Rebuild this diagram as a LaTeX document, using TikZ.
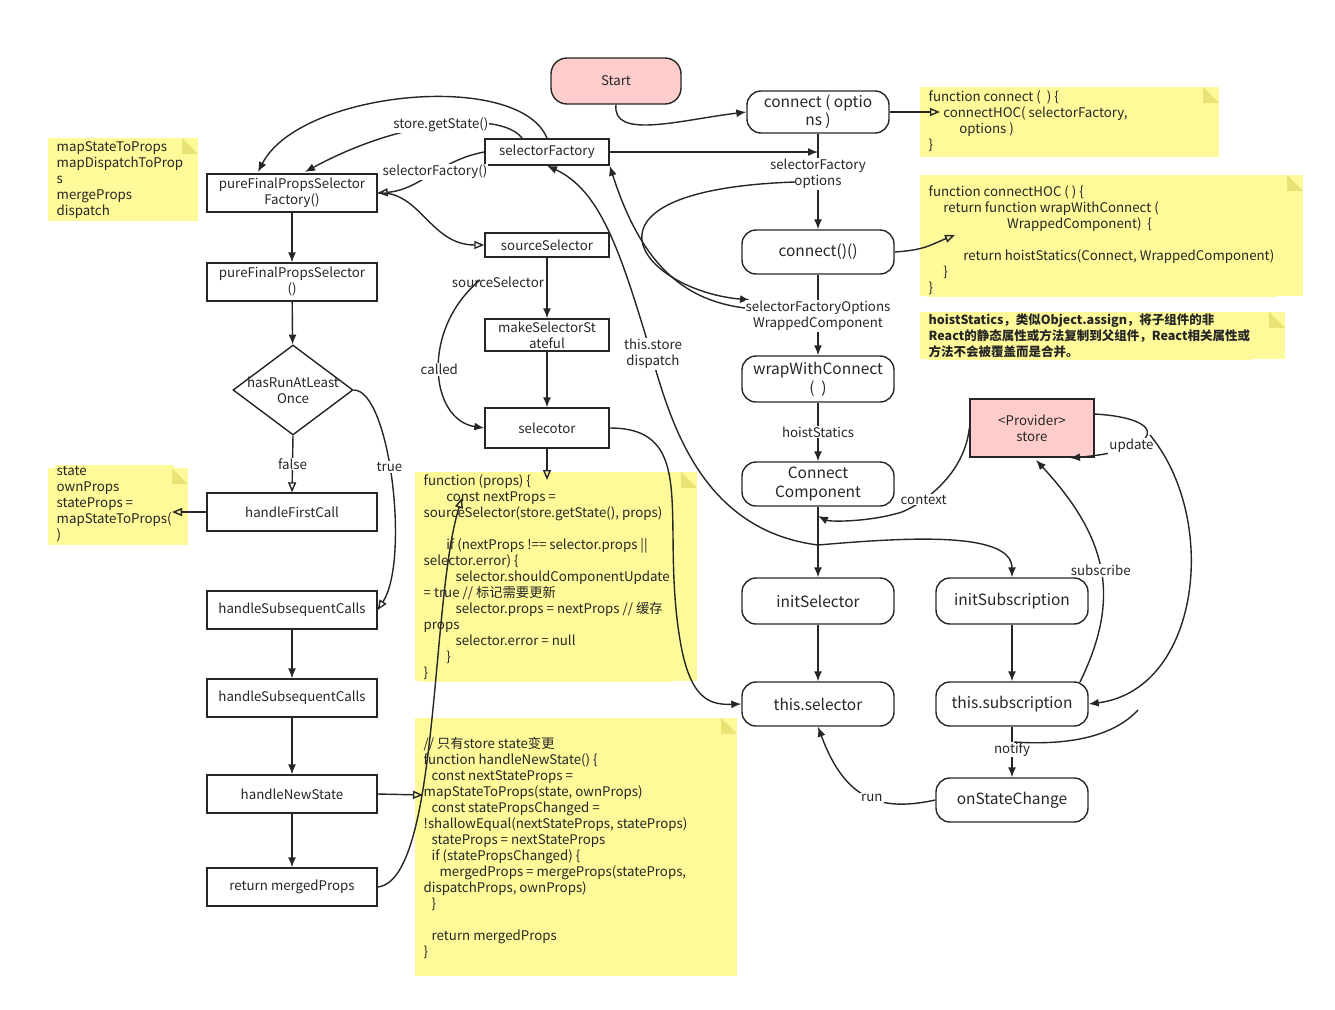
\documentclass[tikz,border=0pt]{standalone}
\usepackage{fontspec}
\setmainfont{Noto Sans CJK SC}
\usetikzlibrary{shapes.geometric,arrows.meta}
\tikzset{
  box/.style={draw,line width=1.4pt,minimum height=38pt,minimum width=170pt,inner sep=2pt,align=center,font=\fontsize{13.3}{16}\selectfont},
  sbox/.style={box,minimum width=124pt,minimum height=26pt},
  rbox/.style={box,rounded corners=14pt,minimum width=152pt,minimum height=44pt,font=\fontsize{15.5}{19}\selectfont},
  note/.style={fill=yellow!40,align=left,anchor=north west,inner sep=6pt,font=\fontsize{13.3}{16}\selectfont},
  lbl/.style={fill=white,inner sep=1pt,font=\fontsize{13.3}{16}\selectfont,align=center},
  arr/.style={line width=1.4pt,-{Latex[length=10pt,width=8pt]}},
  oarr/.style={line width=1.4pt,-{Triangle[open,length=10pt,width=8pt]}}
}
\newcommand{\notecorner}[2]{\fill[yellow!60!olive!50] (#1-16,#2) -- (#1,#2+16) -- (#1-16,#2+16) -- cycle;}
\begin{document}
\begin{tikzpicture}[x=1pt,y=-1pt,line width=1.4pt,color=black!85]
\useasboundingbox (0,0) rectangle (1335,1009);

% notes
\fill[yellow!40] (48,138) rectangle (198,221);
\node[note,inner sep=2pt] (nMap) at (54,139) {mapStateToProps\\mapDispatchToProp\\s\\mergeProps\\dispatch};
\fill[yellow!40] (48,468) rectangle (188,545);
\node[note,inner sep=2pt] (nState) at (54,464) {state\\ownProps\\stateProps =\\mapStateToProps(\\)};
\fill[yellow!40] (415,472) rectangle (697,681);
\node[note,inner sep=2pt] (nCode1) at (421,472) {function (props) \{\\
\hspace*{1.7em}const nextProps =\\sourceSelector(store.getState(), props)\\[16pt]
\hspace*{1.7em}if (nextProps !== selector.props ||\\selector.error) \{\\
\hspace*{2.4em}selector.shouldComponentUpdate\\= true // 标记需要更新\\
\hspace*{2.4em}selector.props = nextProps // 缓存\\props\\
\hspace*{2.4em}selector.error = null\\
\hspace*{1.7em}\}\\\}};
\fill[yellow!40] (415,718) rectangle (737,976);
\node[note,inner sep=2pt] (nCode2) at (421,734) {// 只有store state变更\\function handleNewState() \{\\
\hspace*{0.6em}const nextStateProps =\\mapStateToProps(state, ownProps)\\
\hspace*{0.6em}const statePropsChanged =\\!shallowEqual(nextStateProps, stateProps)\\
\hspace*{0.6em}stateProps = nextStateProps\\
\hspace*{0.6em}if (statePropsChanged) \{\\
\hspace*{1.2em}mergedProps = mergeProps(stateProps,\\dispatchProps, ownProps)\\
\hspace*{0.6em}\}\\[16pt]
\hspace*{0.6em}return mergedProps\\\}};
\fill[yellow!40] (920,87) rectangle (1219,157);
\node[note,inner sep=2pt] (nConnect) at (926,88) {function connect ( \ ) \{\\\hspace*{1.1em}connectHOC( selectorFactory,\\\hspace*{2.3em}options )\\\}};
\fill[yellow!40] (920,175) rectangle (1303,296);
\node[note,inner sep=2pt] (nHOC) at (926,183) {function connectHOC ( ) \{\\
\hspace*{1.1em}return function wrapWithConnect (\\\hspace*{5.9em}WrappedComponent) \ \{\\[16pt]
\hspace*{2.6em}return hoistStatics(Connect, WrappedComponent)\\\hspace*{1.1em}\}\\\}};
\fill[yellow!40] (920,312) rectangle (1285,359);
\node[note,inner sep=2pt,font=\fontsize{12.5}{16}\selectfont\bfseries] (nHoist) at (926,311) {hoistStatics，类似Object.assign，将子组件的非\\React的静态属性或方法复制到父组件，React相关属性或\\方法不会被覆盖而是合并。};
\notecorner{198}{138}\notecorner{188}{468}\notecorner{697}{472}\notecorner{737}{718}
\notecorner{1219}{87}\notecorner{1303}{175}\notecorner{1285}{312}

% left column
\node[box] (pfsf) at (292,193) {pureFinalPropsSelector\\Factory()};
\node[box] (pfs) at (292,282) {pureFinalPropsSelector\\()};
\node[draw,diamond,aspect=1.3,line width=1.4pt,minimum width=120pt,minimum height=90pt,inner sep=-4pt,align=center,font=\fontsize{13.3}{16}\selectfont] (run) at (293,390) {hasRunAtLeast\\Once};
\node[box] (first) at (292,512) {handleFirstCall};
\node[box] (subs1) at (292,610) {handleSubsequentCalls};
\node[box] (subs2) at (292,698) {handleSubsequentCalls};
\node[box] (newst) at (292,794) {handleNewState};
\node[box] (ret) at (292,887) {return mergedProps};

% middle column
\node[draw,fill=red!20,rounded corners=16pt,line width=1.4pt,minimum width=130pt,minimum height=46pt,font=\fontsize{13.3}{16}\selectfont] (start) at (616,81) {Start};
\node[sbox] (sf) at (547,152) {selectorFactory};
\node[sbox,minimum height=24pt] (ss) at (547,245) {sourceSelector};
\node[sbox,minimum height=32pt] (mss) at (547,335) {makeSelectorSt\\ateful};
\node[sbox,minimum height=40pt] (sel) at (547,428) {selecotor};

% right columns
\node[rbox,minimum width=142pt,minimum height=42pt,font=\fontsize{15.5}{18}\selectfont] (conn) at (818,112) {connect ( optio\\ns )};
\node[rbox] (cc) at (818,252) {connect()()};
\node[rbox,minimum height=46pt] (wwc) at (818,379) {wrapWithConnect\\( \ )};
\node[rbox] (comp) at (818,484) {Connect\\Component};
\node[rbox,minimum height=46pt] (isel) at (818,601) {initSelector};
\node[rbox] (tsel) at (818,704) {this.selector};
\node[draw,fill=red!20,line width=1.4pt,minimum width=124pt,minimum height=58pt,align=center,font=\fontsize{13.3}{16}\selectfont] (prov) at (1032,428) {<Provider>\\store};
\node[rbox,minimum height=46pt] (isub) at (1012,601) {initSubscription};
\node[rbox] (tsub) at (1012,704) {this.subscription};
\node[rbox] (ons) at (1012,800) {onStateChange};

\coordinate (sfJ) at (818,152);
\coordinate (compJ) at (818,545);

% connectors
\draw[arr] (start.south) .. controls (612,140) and (680,120) .. (conn.west);
\draw[oarr] (conn.east) -- (940,112);
\draw[arr] (sf.east) -- (sfJ);
\draw (conn.south) -- (818,200);
\node[lbl] (lSFO) at (818,174) {selectorFactory\\options};
\draw[arr] (818,200) -- (cc.north);
\draw[arr] (795,182) .. controls (560,190) and (640,290) .. (750,300);
\draw[oarr] (cc.east) .. controls (925,250) and (930,245) .. (955,235);
\draw[arr] (cc.south) -- (wwc.north);
\node[lbl] (lWC) at (818,316) {selectorFactoryOptions\\WrappedComponent};
\draw[arr] (745,308) .. controls (680,300) and (640,260) .. (sf.south east);
\draw[arr] (wwc.south) -- node[lbl] {hoistStatics} (comp.north);
\draw (comp.south) -- (compJ);
\draw[arr] (compJ) -- (isel.north);
\draw[arr] (compJ) .. controls (900,538) and (1012,530) .. (isub.north);
\draw[arr] (compJ) .. controls (700,530) and (670,420) .. (650,350) .. controls (620,250) and (600,190) .. (sf.south);
\node[lbl] (lDisp) at (653,354) {this.store\\dispatch};
\draw[arr] (prov.west) .. controls (965,470) and (930,500) .. node[lbl,pos=0.75] {context} (902,512) .. controls (870,522) and (830,522) .. (818,516);
\draw[arr] (isel) -- (tsel);
\draw[arr] (isub) -- (tsub);
\draw[arr] (tsub.south) -- node[lbl,pos=0.45] {notify} (ons.north);
\draw[arr] (1080,682) .. controls (1120,600) and (1110,540) .. node[lbl,pos=0.5] {subscribe} (1036,460);
\draw[arr] (1094,414) .. controls (1170,418) and (1165,450) .. node[lbl,pos=0.7] {update} (1070,458);
\draw[arr] (1150,435) .. controls (1220,520) and (1200,690) .. (tsub.east);
\draw (1138,710) .. controls (1110,740) and (1060,745) .. (1014,742);
\draw[arr] (ons.west) .. controls (880,812) and (845,800) .. node[lbl,pos=0.45] {run} (tsel.south);
\draw[arr] (sel.east) .. controls (700,428) and (660,520) .. (680,640) .. controls (690,700) and (710,705) .. (tsel.west);
\draw[oarr] (sel.south) -- (547,480);

% left connectors
\draw[arr] (sf.north) .. controls (520,70) and (300,90) .. (258,172);
\draw[arr] (522,138) .. controls (500,110) and (400,120) .. node[lbl,pos=0.5] {store.getState()} (305,172);
\draw[oarr] (sf.west) .. controls (440,160) and (420,190) .. node[lbl,pos=0.45] {selectorFactory()} (pfsf.east);
\draw[oarr] (pfsf.east) .. controls (420,190) and (430,245) .. (ss.west);
\draw[arr] (ss) -- (mss);
\draw[arr] (mss) -- (sel);
\draw[arr] (480,280) .. controls (420,330) and (430,420) .. node[lbl,pos=0.5] {called} (sel.west);
\node[lbl,fill=none] (lSS) at (498,282) {sourceSelector};
\draw[arr] (pfsf) -- (pfs);
\draw[arr] (pfs) -- (run);
\draw[oarr] (run.south) -- node[lbl] {false} (first.north);
\draw[oarr] (run.east) .. controls (390,390) and (410,560) .. node[lbl,pos=0.45] {true} (subs1.east);
\draw[oarr] (first.west) -- (172,512);
\draw[arr] (subs1) -- (subs2);
\draw[arr] (subs2) -- (newst);
\draw[arr] (newst) -- (ret);
\draw[oarr] (newst.east) -- (423,795);
\draw[oarr] (ret.east) .. controls (440,880) and (430,600) .. (462,498);
\end{tikzpicture}
\end{document}
